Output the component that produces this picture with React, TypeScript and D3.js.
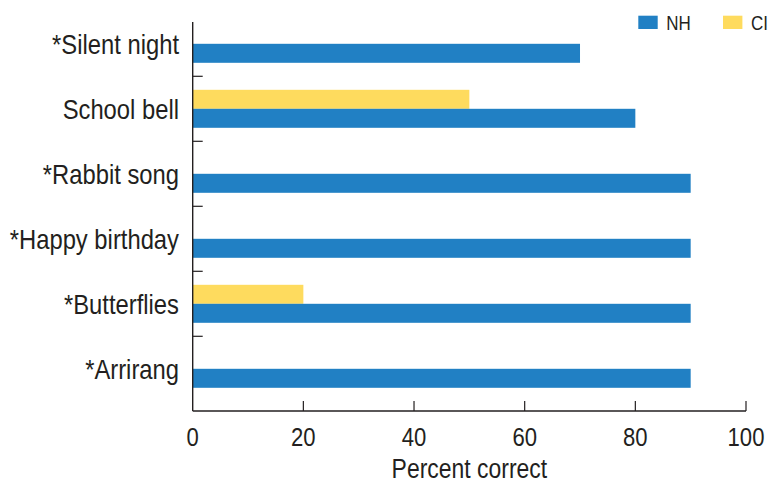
import React from "react";
import * as d3 from "d3";

const categories = ["*Silent night", "School bell", "*Rabbit song", "*Happy birthday", "*Butterflies", "*Arrirang"];
const seriesNames = ["CI", "NH"];
const nhValues = [70, 80, 90, 90, 90, 90];
const ciValues = [0, 50, 0, 0, 20, 0];
const xTicks = [0, 20, 40, 60, 80, 100];
const colors: Record<string, string> = { NH: "#2180C4", CI: "#FEDB5E" };
const legendItems = ["NH", "CI"];

const W = 780;
const H = 489;
const FONT = "'Liberation Sans', Arial, sans-serif";
const INK = "#231F20";
const NARROW = 0.85;

function NText(props: { x: number; y: number; size: number; anchor?: string; children: React.ReactNode }) {
  const { x, y, size, anchor, children } = props;
  return (
    <text
      transform={`translate(${x},${y}) scale(${NARROW},1)`}
      textAnchor={anchor || "start"}
      fontFamily={FONT}
      fontSize={size}
      fill={INK}
    >
      {children}
    </text>
  );
}

export default function App() {
  const x = d3.scaleLinear().domain([0, 100]).range([192.7, 746]);
  const y = d3.scaleBand<string>().domain(categories).range([11.3, 401.3]).paddingInner(0);
  const barH = 19;
  const sub = d3.scaleBand<string>().domain(seriesNames).range([0, barH * 2]);
  const axisY = 411;
  const axisTop = 22;

  const values: Record<string, number[]> = { NH: nhValues, CI: ciValues };

  return (
    <svg width={W} height={H} style={{ position: "absolute", left: 0, top: 0, background: "#fff" }}>
      {/* bars */}
      {seriesNames.map((s) =>
        categories.map((c, i) => {
          const v = values[s][i];
          if (!v) return null;
          const y0 = (y(c) as number) + y.bandwidth() / 2 - barH + (sub(s) as number);
          return (
            <rect key={s + c} x={x(0)} y={y0} width={x(v) - x(0)} height={sub.bandwidth()} fill={colors[s]} />
          );
        })
      )}

      {/* y axis */}
      <line x1={x(0)} x2={x(0)} y1={axisTop} y2={axisY} stroke={INK} strokeWidth={1.4} />
      {categories.slice(1).map((c) => (
        <line key={"yt" + c} x1={x(0)} x2={x(0) + 10} y1={y(c)} y2={y(c)} stroke={INK} strokeWidth={1.2} />
      ))}
      {categories.map((c) => (
        <NText key={"yl" + c} x={179} y={(y(c) as number) + y.bandwidth() / 2 + 9.8} size={28} anchor="end">
          {c}
        </NText>
      ))}

      {/* x axis */}
      <line x1={x(0)} x2={x(100)} y1={axisY} y2={axisY} stroke={INK} strokeWidth={1.4} />
      {xTicks.slice(1).map((t) => (
        <line key={"xt" + t} x1={x(t)} x2={x(t)} y1={axisY - 10} y2={axisY} stroke={INK} strokeWidth={1.2} />
      ))}
      {xTicks.map((t) => (
        <NText key={"xl" + t} x={x(t)} y={446} size={26} anchor="middle">
          {t}
        </NText>
      ))}
      <NText x={(x(0) + x(100)) / 2} y={478} size={27} anchor="middle">
        Percent correct
      </NText>

      {/* legend */}
      {legendItems.map((s, i) => {
        const lx = 638.3 + i * 84.7;
        return (
          <g key={"lg" + s}>
            <rect x={lx} y={15.7} width={19.4} height={13.3} fill={colors[s]} />
            <NText x={lx + 28} y={30} size={20}>
              {s}
            </NText>
          </g>
        );
      })}
    </svg>
  );
}
